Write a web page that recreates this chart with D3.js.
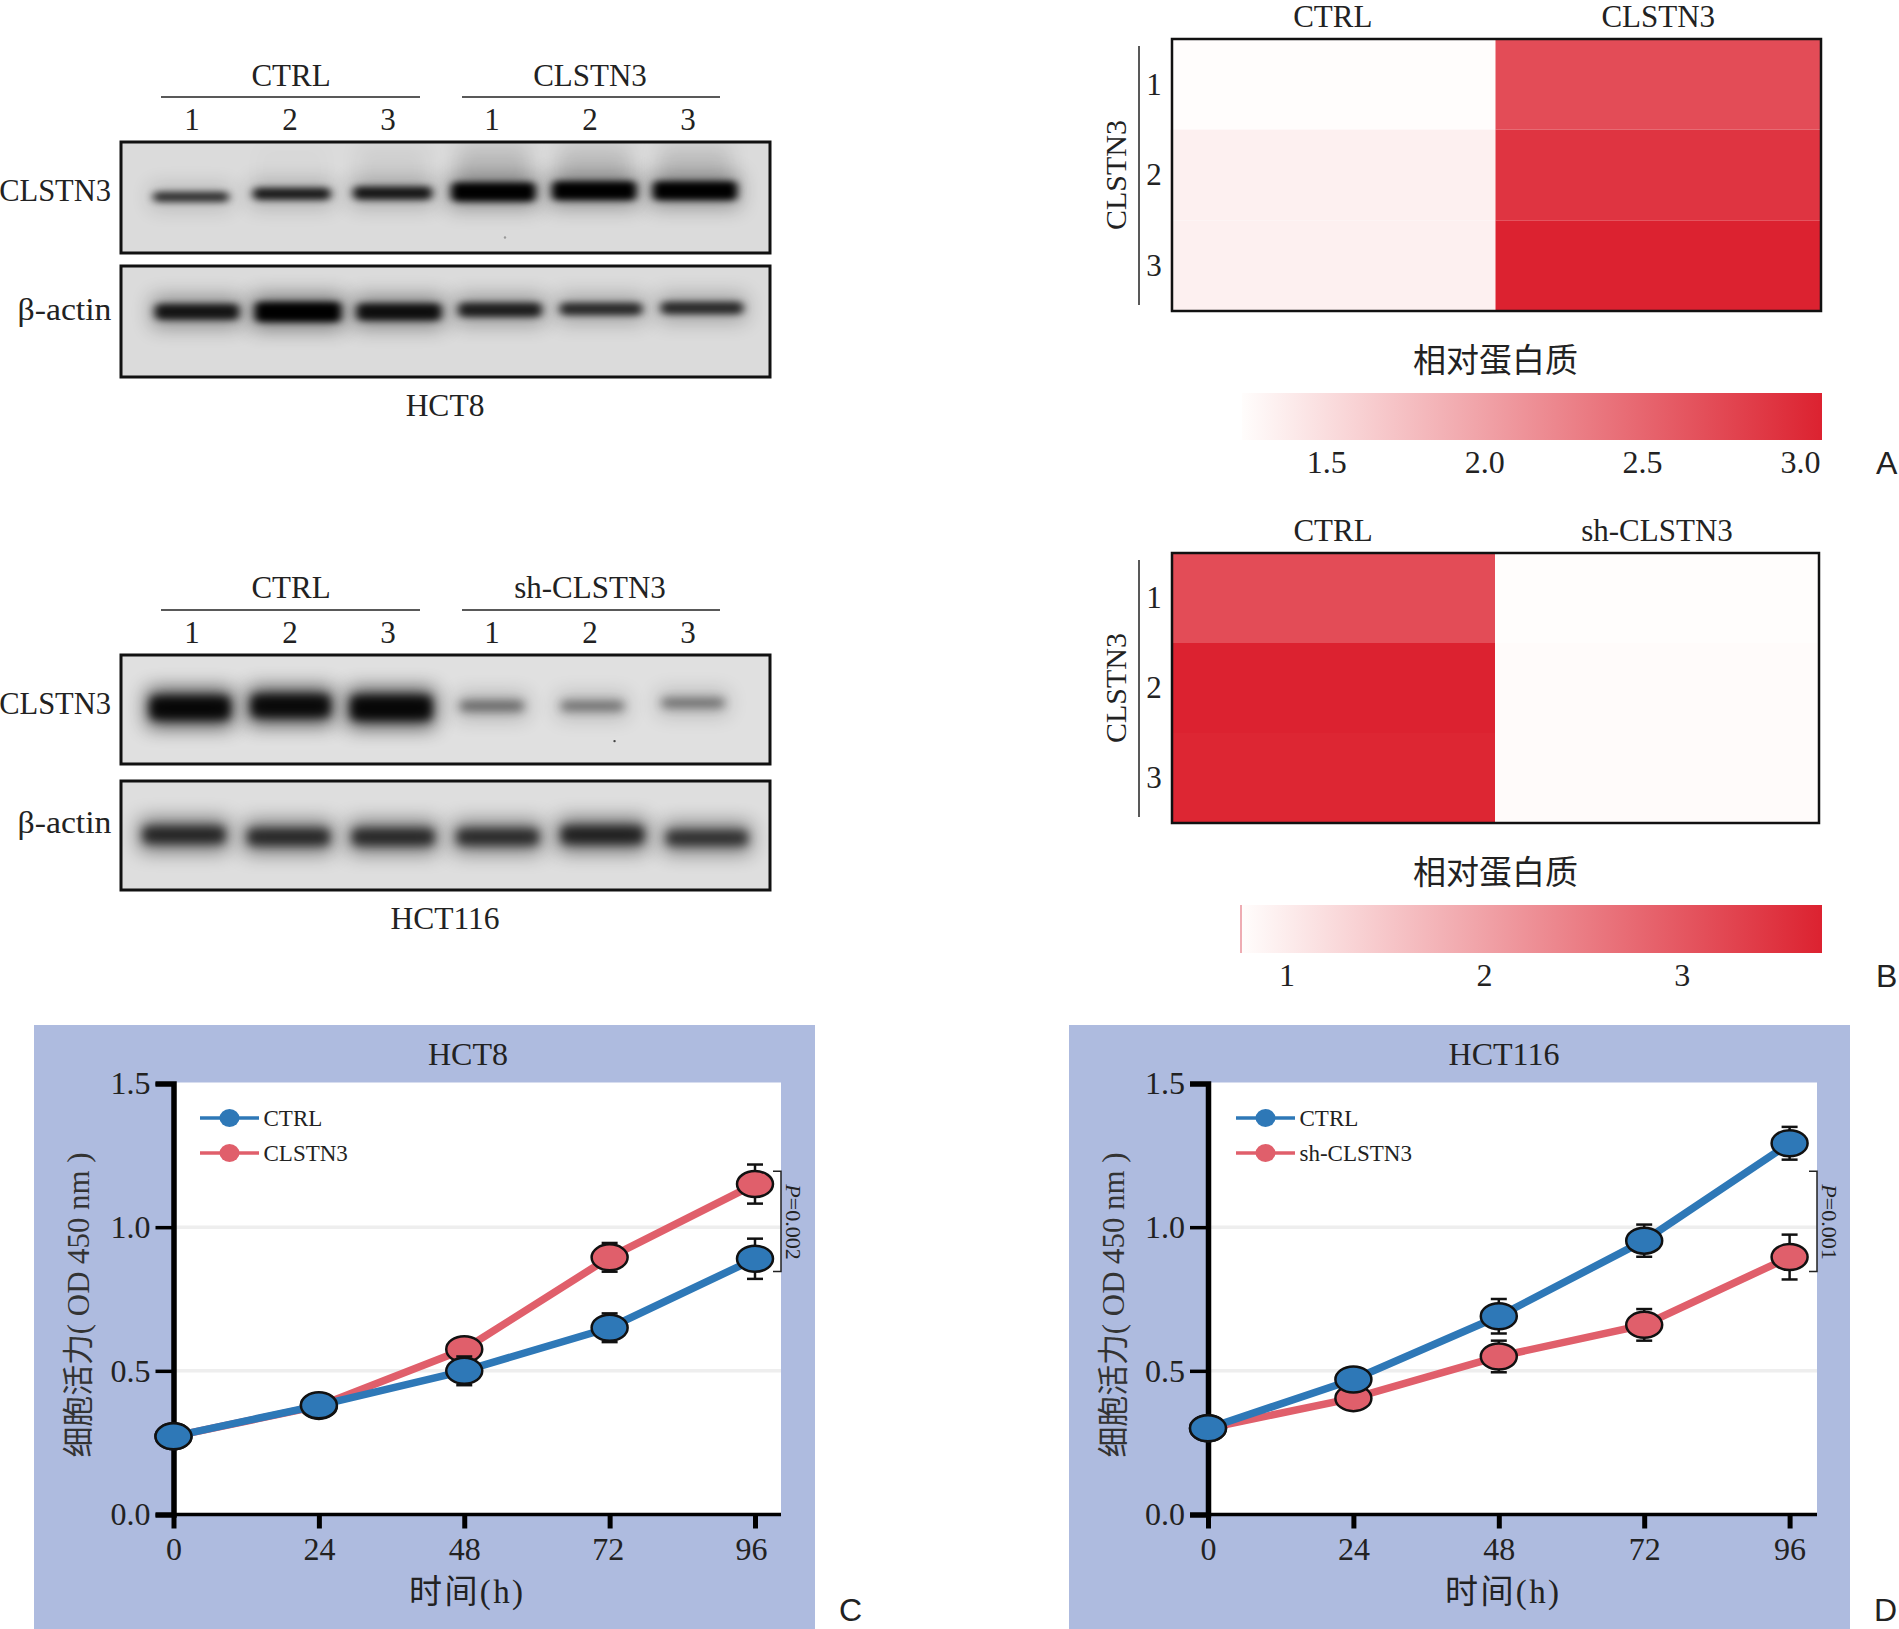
<!DOCTYPE html>
<html lang="zh">
<head>
    <meta charset="UTF-8"/>
    <title>CLSTN3 blots, heatmaps and cell viability</title>
    <script src="https://d3js.org/d3.v7.min.js"></script>
    <style>
        html, body { margin: 0; padding: 0; background: #fff; }
        svg { display: block; }
        text { font-family: "Liberation Serif", "Noto Sans CJK SC", serif; fill: #222; }
        .letter { font-family: "Liberation Sans", Arial, sans-serif; font-size: 32px; }
    </style>
</head>
<body>
<script>
    // blots: band signal (0-1) and migration (fraction of the membrane height)
    var lanes = ["1", "2", "3"];
    var hct8TargetSignal = [0.42, 0.55, 0.62, 1, 1, 1];
    var hct8TargetMigration = [0.495, 0.468, 0.46, 0.45, 0.44, 0.44];
    var hct8TargetSmear = [0, 0.01, 0.05, 0.14, 0.13, 0.12];
    var hct8TargetSpeck = [3.115, 0.86];
    var hct8ActinSignal = [0.75, 1, 0.82, 0.66, 0.55, 0.55];
    var hct8ActinMigration = [0.414, 0.414, 0.414, 0.396, 0.387, 0.378];
    var hct116TargetSignal = [1, 0.95, 1.05, 0.3, 0.26, 0.26];
    var hct116TargetMigration = [0.486, 0.468, 0.486, 0.468, 0.468, 0.44];
    var hct116TargetSpeck = [4.22, 0.79];
    var hct116ActinSignal = [0.8, 0.78, 0.78, 0.76, 0.84, 0.72];
    var hct116ActinMigration = [0.495, 0.514, 0.514, 0.514, 0.495, 0.523];

    // heatmaps
    var heatRows = ["1", "2", "3"];
    var heatAColumns = ["CTRL", "CLSTN3"];
    var heatACtrl = [1.233, 1.34, 1.34];
    var heatAClstn3 = [2.72, 2.92, 3.07];
    var heatBColumns = ["CTRL", "sh-CLSTN3"];
    var heatBCtrl = [3.15, 3.71, 3.66];
    var heatBSh = [0.775, 0.8, 0.8];

    // viability curves
    var hours = [0, 24, 48, 72, 96];
    var hct8Ctrl = [0.272, 0.38, 0.50, 0.65, 0.89];
    var hct8CtrlErr = [0.01, 0.02, 0.05, 0.05, 0.07];
    var hct8Clstn3 = [0.272, 0.378, 0.575, 0.895, 1.15];
    var hct8Clstn3Err = [0.01, 0.02, 0.03, 0.05, 0.068];
    var hct116Ctrl = [0.30, 0.47, 0.69, 0.953, 1.292];
    var hct116CtrlErr = [0.01, 0.02, 0.06, 0.056, 0.057];
    var hct116Sh = [0.30, 0.405, 0.55, 0.66, 0.896];
    var hct116ShErr = [0.01, 0.02, 0.055, 0.055, 0.078];

    var w = 1899;
    var h = 1629;
    var blue = "#2e78b7";
    var red = "#e05f6b";

    var svg = d3.select("body").append("svg")
        .attr("width", w)
        .attr("height", h);

    var defs = svg.append("defs");
    function blur(id, dev) {
        defs.append("filter").attr("id", id)
            .attr("x", "-50%").attr("y", "-300%").attr("width", "200%").attr("height", "700%")
            .append("feGaussianBlur").attr("stdDeviation", dev);
    }
    blur("core", "4 3.2");
    blur("soft", "5 5");
    blur("halo", "10 10");

    function label(x, y, str, size, anchor) {
        return svg.append("text")
            .attr("x", x)
            .attr("y", y)
            .attr("dy", "0.35em")
            .attr("text-anchor", anchor || "middle")
            .style("font-size", (size || 31) + "px")
            .text(str);
    }

    function rotated(x, y, angle, str, size, len) {
        var t = svg.append("text")
            .attr("transform", "translate(" + x + "," + y + ") rotate(" + angle + ")")
            .attr("dy", "0.35em")
            .attr("text-anchor", "middle")
            .style("font-size", (size || 30) + "px")
            .text(str);
        if (len) t.attr("textLength", len).attr("lengthAdjust", "spacingAndGlyphs");
        return t;
    }

    // one membrane of a blot
    var clipCount = 0;
    function membrane(top, bottom, laneRange, signal, migration, opts) {
        opts = opts || {};
        var laneX = d3.scaleLinear().domain([0, 5]).range(laneRange);
        var y = d3.scaleLinear().domain([0, 1]).range([top, bottom]);
        var thick = d3.scaleLinear().domain([0, 1]).range(opts.thick || [3, 15]);
        var wide = d3.scaleLinear().domain([0, 1]).range(opts.wide || [68, 80]);
        var dark = d3.scaleLinear().domain([0, 0.5, 1]).range(opts.dark || [0.3, 0.85, 1]).clamp(true);

        var id = "clip" + (clipCount++);
        defs.append("clipPath").attr("id", id).append("rect")
            .attr("x", 121).attr("y", top).attr("width", 649).attr("height", bottom - top);

        var g = svg.append("g").attr("clip-path", "url(#" + id + ")");
        g.append("rect")
            .attr("x", 121).attr("y", top).attr("width", 649).attr("height", bottom - top)
            .attr("fill", opts.bg || "#dbdbdb");

        if (opts.smear) {
            g.selectAll(".smear").data(opts.smear).enter().append("rect")
                .attr("x", function(d, i) { return laneX(i) - 36; })
                .attr("y", y(0.02))
                .attr("width", 72)
                .attr("height", function(d, i) { return y(migration[i]) - y(0.02); })
                .attr("fill", "#000")
                .attr("opacity", function(d) { return d; })
                .attr("filter", "url(#halo)");
        }

        g.selectAll(".bandHalo").data(signal).enter().append("rect")
            .attr("x", function(d, i) { return laneX(i) - wide(d) / 2 - 3; })
            .attr("y", function(d, i) { return y(migration[i]) - thick(d) / 2 - 7; })
            .attr("width", function(d) { return wide(d) + 6; })
            .attr("height", function(d) { return thick(d) + 14; })
            .attr("fill", "#000")
            .attr("opacity", function(d) { return (opts.halo || 0.35) * Math.min(d * 1.1, 1); })
            .attr("filter", "url(#halo)");

        g.selectAll(".band").data(signal).enter().append("rect")
            .attr("x", function(d, i) { return laneX(i) - wide(d) / 2; })
            .attr("y", function(d, i) { return y(migration[i]) - thick(d) / 2; })
            .attr("width", function(d) { return wide(d); })
            .attr("height", function(d) { return thick(d); })
            .attr("rx", 5)
            .attr("fill", "#000")
            .attr("opacity", function(d) { return dark(d); })
            .attr("filter", opts.filter || "url(#core)");

        if (opts.speck) {
            g.append("circle")
                .attr("cx", laneX(opts.speck[0]))
                .attr("cy", y(opts.speck[1]))
                .attr("r", 1.2)
                .attr("fill", opts.speckColor || "#444");
        }

        svg.append("rect")
            .attr("x", 121).attr("y", top).attr("width", 649).attr("height", bottom - top)
            .attr("fill", "none").attr("stroke", "#111").attr("stroke-width", 3);
    }

    function blotHeader(groupY, ruleY, numY, names) {
        label(291, groupY, names[0]);
        label(590, groupY, names[1]);
        [[161, 420], [462, 720]].forEach(function(r) {
            svg.append("line")
                .attr("x1", r[0]).attr("x2", r[1]).attr("y1", ruleY).attr("y2", ruleY)
                .attr("stroke", "#222").attr("stroke-width", 1.5);
        });
        [[192, 388], [492, 688]].forEach(function(r) {
            var numX = d3.scalePoint().domain(lanes).range(r);
            lanes.forEach(function(d) {
                label(numX(d), numY, d);
            });
        });
    }

    // HCT8 blot
    blotHeader(75.5, 97, 119.5, ["CTRL", "CLSTN3"]);
    membrane(142, 253, [191, 695], hct8TargetSignal, hct8TargetMigration, { smear: hct8TargetSmear, speck: hct8TargetSpeck, speckColor: "#999", thick: [4, 19], wide: [70, 84], dark: [0.3, 0.82, 1], halo: 0.34 });
    membrane(266, 377, [197, 702], hct8ActinSignal, hct8ActinMigration, { thick: [3, 20], wide: [78, 86], dark: [0.3, 0.72, 1], halo: 0.45 });
    label(111, 190.5, "CLSTN3", 30.5, "end");
    label(111.5, 309.5, "β-actin", 30.5, "end").attr("textLength", 94).attr("lengthAdjust", "spacingAndGlyphs");
    label(445, 404.5, "HCT8", 31.5);

    // HCT116 blot
    blotHeader(587.5, 610, 632.5, ["CTRL", "sh-CLSTN3"]);
    membrane(655, 764, [190, 693], hct116TargetSignal, hct116TargetMigration, { speck: hct116TargetSpeck, thick: [4, 23], wide: [58, 80], dark: [0.3, 0.6, 0.9], halo: 0.7, filter: "url(#soft)", bg: "#e0e0e0" });
    membrane(781, 890, [184, 707], hct116ActinSignal, hct116ActinMigration, { thick: [0, 21], wide: [76, 84], dark: [0.3, 0.5, 0.8], halo: 0.6, filter: "url(#soft)", bg: "#dedede" });
    label(111, 703.5, "CLSTN3", 30.5, "end");
    label(111.5, 822.5, "β-actin", 30.5, "end").attr("textLength", 94).attr("lengthAdjust", "spacingAndGlyphs");
    label(445, 917.5, "HCT116", 31.5);

    // heatmap with its colour bar
    function heatmap(o) {
        var color = d3.scaleLinear().domain(o.scale).range(["#fffdfc", "#dc2230"]);
        var x = d3.scaleBand().domain(o.columns).range([o.left, o.right]);
        var y = d3.scaleBand().domain(heatRows).range([o.top, o.bottom]);

        o.columns.forEach(function(col, c) {
            svg.selectAll(".cell" + o.id + c).data(o.values[c]).enter().append("rect")
                .attr("x", x(col))
                .attr("y", function(d, i) { return y(heatRows[i]); })
                .attr("width", x.bandwidth())
                .attr("height", y.bandwidth())
                .attr("fill", function(d) { return color(d); });
            label(x(col) + x.bandwidth() / 2, o.top - 22.5, col);
        });

        svg.append("rect")
            .attr("x", 1172).attr("y", o.top)
            .attr("width", o.right - 1172).attr("height", o.bottom - o.top)
            .attr("fill", "none").attr("stroke", "#111").attr("stroke-width", 2.5);

        svg.append("line")
            .attr("x1", 1139).attr("x2", 1139)
            .attr("y1", o.top + 7).attr("y2", o.bottom - 6)
            .attr("stroke", "#222").attr("stroke-width", 1.5);
        rotated(1115, (o.top + o.bottom) / 2, -90, "CLSTN3");
        heatRows.forEach(function(d) {
            label(1154, y(d) + y.bandwidth() / 2 - 0.5, d);
        });

        label(1495.5, o.barTop - 33, "相对蛋白质", 33);

        var barX = d3.scaleLinear().domain(o.scale).range([1242, 1822]);
        var gradId = "grad" + o.id;
        var grad = defs.append("linearGradient").attr("id", gradId);
        o.scale.forEach(function(d, i) {
            grad.append("stop").attr("offset", i * 100 + "%").attr("stop-color", color(d));
        });
        svg.append("rect")
            .attr("x", barX.range()[0]).attr("y", o.barTop)
            .attr("width", barX.range()[1] - barX.range()[0])
            .attr("height", o.barBottom - o.barTop)
            .attr("fill", "url(#" + gradId + ")");
        if (o.endMark) {
            svg.append("line")
                .attr("x1", barX(o.scale[0]) - 1).attr("x2", barX(o.scale[0]) - 1)
                .attr("y1", o.barTop).attr("y2", o.barBottom)
                .attr("stroke", o.endMark).attr("stroke-width", 1.5);
        }

        var axis = svg.append("g")
            .attr("transform", "translate(0," + o.barBottom + ")")
            .call(d3.axisBottom(barX).tickValues(o.ticks).tickFormat(d3.format(o.format)).tickSize(0).tickPadding(10));
        axis.select(".domain").remove();
        axis.selectAll("text").style("font-size", "32px").style("font-family", null);

        svg.append("text").attr("class", "letter")
            .attr("x", 1876).attr("y", o.barBottom + 23).attr("dy", "0.35em").text(o.letter);
    }

    heatmap({
        id: "A", letter: "A", columns: heatAColumns, values: [heatACtrl, heatAClstn3],
        scale: [1.233, 3.07], ticks: [1.5, 2.0, 2.5, 3.0], format: ".1f",
        left: 1170, top: 39, bottom: 311, right: 1821, barTop: 393, barBottom: 440
    });
    heatmap({
        id: "B", letter: "B", columns: heatBColumns, values: [heatBCtrl, heatBSh],
        scale: [0.775, 3.71], ticks: [1, 2, 3], format: "d",
        left: 1171, top: 553, bottom: 823, right: 1819, barTop: 905, barBottom: 953, endMark: "#e8919a"
    });

    // viability panel
    function viability(o) {
        svg.append("rect")
            .attr("x", o.panel[0]).attr("y", 1025)
            .attr("width", o.panel[1] - o.panel[0]).attr("height", 604)
            .attr("fill", "#aebbdf");

        var xScale = d3.scaleLinear().domain([0, 96]).range(o.xRange);
        var xEnd = o.plotRight;
        var yScale = d3.scaleLinear().domain([0, 1.5]).range([1514.5, 1083.5]);

        svg.append("rect")
            .attr("x", o.xRange[0]).attr("y", 1082.5)
            .attr("width", xEnd - o.xRange[0]).attr("height", 1514.5 - 1082.5)
            .attr("fill", "#fff");

        // grid
        svg.selectAll(".grid" + o.letter).data([0.5, 1.0]).enter().append("line")
            .attr("x1", o.xRange[0]).attr("x2", xEnd)
            .attr("y1", function(d) { return yScale(d); })
            .attr("y2", function(d) { return yScale(d); })
            .attr("stroke", "#eeeeee").attr("stroke-width", 3.5);

        // axes
        var xAxis = svg.append("g")
            .attr("transform", "translate(0,1514.5)")
            .call(d3.axisBottom(xScale).tickValues(hours).tickSizeOuter(0).tickSize(14).tickPadding(9));
        xAxis.select(".domain").attr("d", "M" + o.xRange[0] + ",0H" + xEnd).attr("stroke", "#000").attr("stroke-width", 3.5);
        xAxis.selectAll("line").attr("stroke", "#000").attr("stroke-width", 5);
        xAxis.selectAll("text").style("font-size", "32px").style("font-family", null)
            .attr("dx", function(d) { return o.tickShift[hours.indexOf(d)]; });

        var yAxis = svg.append("g")
            .attr("transform", "translate(" + o.xRange[0] + ",0)")
            .call(d3.axisLeft(yScale).tickValues([0, 0.5, 1.0, 1.5]).tickFormat(d3.format(".1f")).tickSizeOuter(0).tickSize(18).tickPadding(5));
        yAxis.select(".domain").attr("stroke", "#000").attr("stroke-width", 5.5);
        yAxis.selectAll("line").attr("stroke", "#000").attr("stroke-width", 3.5);
        yAxis.selectAll("text").style("font-size", "32px").style("font-family", null);

        var line = d3.line()
            .x(function(d, i) { return xScale(hours[i]); })
            .y(function(d) { return yScale(d); });

        // red series goes first, blue stays on top in both panels
        o.series.forEach(function(s) {
            svg.append("path").datum(s.values)
                .attr("d", line)
                .attr("fill", "none")
                .attr("stroke", s.color)
                .attr("stroke-width", 7.5);

            var g = svg.append("g").selectAll("g").data(s.values).enter().append("g");
            function vx(d, i) { return xScale(hours[i]); }
            g.append("line")
                .attr("x1", vx).attr("x2", vx)
                .attr("y1", function(d, i) { return yScale(d + s.err[i]); })
                .attr("y2", function(d, i) { return yScale(d - s.err[i]); })
                .attr("stroke", "#111").attr("stroke-width", 2.5);
            [1, -1].forEach(function(sign) {
                g.append("line")
                    .attr("x1", function(d, i) { return vx(d, i) - 8; })
                    .attr("x2", function(d, i) { return vx(d, i) + 8; })
                    .attr("y1", function(d, i) { return yScale(d + sign * s.err[i]); })
                    .attr("y2", function(d, i) { return yScale(d + sign * s.err[i]); })
                    .attr("stroke", "#111").attr("stroke-width", 2.5);
            });
            g.append("ellipse")
                .attr("cx", vx)
                .attr("cy", function(d) { return yScale(d); })
                .attr("rx", 18)
                .attr("ry", 13)
                .attr("fill", s.color)
                .attr("stroke", "#111")
                .attr("stroke-width", 2.5);
        });

        // legend
        o.legend.forEach(function(s, i) {
            var ly = 1118 + i * 35;
            svg.append("line")
                .attr("x1", o.legendX).attr("x2", o.legendX + 59)
                .attr("y1", ly).attr("y2", ly)
                .attr("stroke", s.color).attr("stroke-width", 3.5);
            svg.append("ellipse")
                .attr("cx", o.legendX + 29.5).attr("cy", ly)
                .attr("rx", 10).attr("ry", 9)
                .attr("fill", s.color);
            label(o.legendX + 63.5, ly, s.name, 23, "start");
        });

        // significance bracket
        var by1 = yScale(1.195), by2 = yScale(0.846);
        svg.append("path")
            .attr("d", "M" + (xEnd - 8) + "," + by1 + "H" + xEnd + "V" + by2 + "H" + (xEnd - 8))
            .attr("fill", "none").attr("stroke", "#222").attr("stroke-width", 1.5);
        var p = rotated(xEnd + o.pOffset, 1222, 90, "", 22);
        p.append("tspan").style("font-style", "italic").text("P");
        p.append("tspan").text("=" + o.p);

        label(o.titleX, 1054, o.title, 32);
        label(o.titleX - 2, 1591, "时间(h)", 33).attr("textLength", 114).attr("lengthAdjust", "spacing");
        rotated(o.yTitleX, 1305, -90, "细胞活力( OD 450 nm )", 31, 305).style("fill", "#333");

        svg.append("text").attr("class", "letter")
            .attr("x", o.panel[1] + 24).attr("y", 1610).attr("dy", "0.35em").text(o.letter);
    }

    viability({
        letter: "C", title: "HCT8", p: "0.002",
        panel: [34, 815], xRange: [173.5, 755], plotRight: 781,
        titleX: 468, yTitleX: 78, legendX: 200, pOffset: 13, tickShift: [0, 0, 0, -2, -4],
        series: [
            { values: hct8Clstn3, err: hct8Clstn3Err, color: red },
            { values: hct8Ctrl, err: hct8CtrlErr, color: blue }
        ],
        legend: [{ name: "CTRL", color: blue }, { name: "CLSTN3", color: red }]
    });
    viability({
        letter: "D", title: "HCT116", p: "0.001",
        panel: [1069, 1850], xRange: [1208, 1789.6], plotRight: 1817,
        titleX: 1504, yTitleX: 1113, legendX: 1236, pOffset: 13, tickShift: [0, 0, 0, 0, 0],
        series: [
            { values: hct116Sh, err: hct116ShErr, color: red },
            { values: hct116Ctrl, err: hct116CtrlErr, color: blue }
        ],
        legend: [{ name: "CTRL", color: blue }, { name: "sh-CLSTN3", color: red }]
    });
</script>
</body>
</html>
